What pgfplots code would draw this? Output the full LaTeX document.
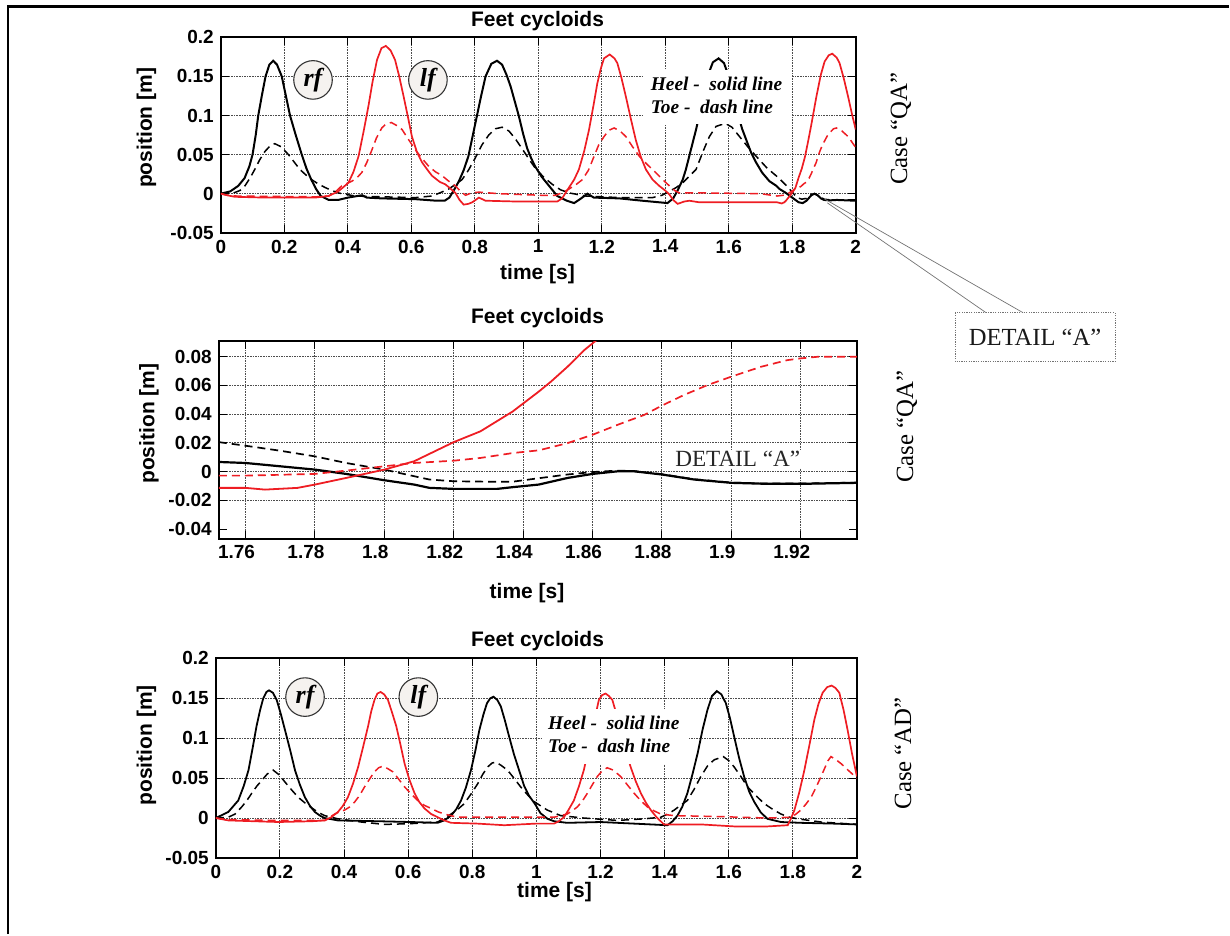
\documentclass[border=0pt]{standalone}
\usepackage{pgfplots}
\pgfplotsset{compat=1.18}
\usepackage{fontspec}
\setmainfont{Liberation Sans}
\newfontfamily\tnr{Liberation Serif}
\definecolor{cred}{HTML}{EE1D23}
\definecolor{circfill}{HTML}{F5F2EF}
\pgfplotsset{
  feet/.style={scale only axis, axis line style={line width=1pt}, grid=major,
    major grid style={black!70, line width=0.45pt, dash pattern=on 0.8pt off 0.5pt},
    tick align=inside, major tick length=4pt, every tick/.style={black,line width=0.5pt},
    ticklabel style={font=\fontsize{9.5}{11}\selectfont\bfseries}, scaled ticks=false},
  heel/.style={black, line width=1pt},
  toe/.style={black, line width=0.75pt, dash pattern=on 4pt off 2.5pt},
  rheel/.style={cred, line width=0.85pt},
  rtoe/.style={cred, line width=0.75pt, dash pattern=on 4pt off 2.5pt},
}
\begin{document}
\begin{tikzpicture}
\begin{scope}[x=0.5pt,y=-0.5pt]
\path[use as bounding box] (0,0) rectangle (1230,935);
\end{scope}
% ---------------- top axis ----------------
\begin{axis}[feet, at={(110.5pt,-116.5pt)}, anchor=south west, width=317.75pt, height=97.85pt,
  xmin=0, xmax=2, ymin=-0.05, ymax=0.2,
  xtick={0,0.2,0.4,0.6,0.8,1,1.2,1.4,1.6,1.8,2},
  xticklabels={0,0.2,0.4,0.6,0.8,1,1.2,1.4,1.6,1.8,2},
  ytick={-0.05,0,0.05,0.1,0.15,0.2}, yticklabels={-0.05,0,0.05,0.1,0.15,0.2}]
\addplot[toe] coordinates {(0,0) (0.034,0) (0.06,0.004) (0.076,0.01) (0.092,0.02) (0.107,0.031) (0.122,0.043) (0.139,0.054) (0.155,0.061) (0.17,0.064) (0.19,0.06) (0.213,0.05) (0.232,0.04) (0.249,0.031) (0.268,0.024) (0.286,0.018) (0.305,0.013) (0.328,0.008) (0.35,0.004) (0.37,0.001) (0.423,-0.003) (0.507,-0.004) (0.613,-0.005) (0.665,-0.003) (0.69,0.001) (0.718,0.006) (0.74,0.012) (0.76,0.018) (0.78,0.03) (0.802,0.046) (0.822,0.062) (0.844,0.075) (0.865,0.083) (0.886,0.085) (0.908,0.08) (0.928,0.07) (0.95,0.057) (0.971,0.044) (0.99,0.033) (1.015,0.022) (1.044,0.012) (1.07,0.005) (1.097,0.001) (1.15,-0.003) (1.255,-0.005) (1.36,-0.005) (1.39,-0.002) (1.413,0.003) (1.435,0.008) (1.455,0.014) (1.475,0.022) (1.497,0.031) (1.52,0.055) (1.539,0.073) (1.56,0.086) (1.589,0.09) (1.61,0.085) (1.634,0.073) (1.66,0.06) (1.686,0.048) (1.72,0.033) (1.749,0.023) (1.76,0.019) (1.78,0.011) (1.8,0.002) (1.815,-0.005) (1.83,-0.007) (1.845,-0.006) (1.86,-0.001) (1.87,0) (1.88,-0.002) (1.9,-0.007) (1.92,-0.008) (2,-0.008)};
\addplot[heel] coordinates {(0,0) (0.03,0.003) (0.055,0.01) (0.075,0.02) (0.09,0.035) (0.1,0.05) (0.11,0.075) (0.118,0.1) (0.13,0.127) (0.141,0.15) (0.153,0.165) (0.165,0.17) (0.177,0.165) (0.192,0.15) (0.205,0.125) (0.218,0.1) (0.236,0.075) (0.255,0.05) (0.27,0.032) (0.285,0.018) (0.3,0.006) (0.315,-0.003) (0.34,-0.008) (0.37,-0.008) (0.4,-0.005) (0.43,-0.003) (0.445,-0.002) (0.46,-0.005) (0.507,-0.006) (0.613,-0.007) (0.68,-0.009) (0.705,-0.009) (0.72,-0.005) (0.735,0.005) (0.75,0.016) (0.765,0.03) (0.78,0.048) (0.794,0.075) (0.807,0.1) (0.82,0.125) (0.834,0.15) (0.852,0.166) (0.87,0.17) (0.886,0.165) (0.9,0.152) (0.913,0.137) (0.926,0.118) (0.939,0.099) (0.952,0.077) (0.965,0.058) (0.978,0.045) (0.99,0.035) (1.01,0.022) (1.034,0.01) (1.06,-0.003) (1.09,-0.009) (1.113,-0.012) (1.135,-0.006) (1.155,0) (1.175,-0.005) (1.255,-0.006) (1.328,-0.009) (1.407,-0.012) (1.425,-0.006) (1.44,0.005) (1.455,0.018) (1.465,0.031) (1.48,0.055) (1.497,0.082) (1.51,0.105) (1.518,0.124) (1.535,0.152) (1.55,0.168) (1.568,0.173) (1.585,0.167) (1.6,0.15) (1.615,0.125) (1.63,0.1) (1.642,0.083) (1.655,0.069) (1.67,0.053) (1.686,0.04) (1.705,0.027) (1.728,0.016) (1.75,0.01) (1.76,0.006) (1.78,0.001) (1.8,-0.005) (1.82,-0.011) (1.833,-0.012) (1.845,-0.009) (1.86,-0.002) (1.87,0) (1.88,-0.002) (1.89,-0.006) (1.9,-0.008) (1.92,-0.0085) (1.94,-0.008) (2,-0.009)};
\addplot[rtoe] coordinates {(0,0) (0.02,-0.002) (0.05,-0.003) (0.3,-0.004) (0.34,-0.003) (0.36,0.002) (0.381,0.01) (0.397,0.013) (0.413,0.016) (0.428,0.02) (0.444,0.027) (0.46,0.04) (0.476,0.056) (0.49,0.071) (0.507,0.084) (0.52,0.089) (0.537,0.091) (0.555,0.087) (0.571,0.082) (0.59,0.07) (0.613,0.056) (0.634,0.045) (0.655,0.035) (0.676,0.028) (0.697,0.023) (0.718,0.016) (0.739,0.01) (0.755,0.003) (0.771,-0.002) (0.79,0.001) (0.813,0.002) (0.876,0) (1.007,-0.002) (1.055,-0.002) (1.08,0.002) (1.097,0.006) (1.12,0.012) (1.139,0.018) (1.158,0.03) (1.176,0.048) (1.19,0.062) (1.207,0.073) (1.222,0.081) (1.239,0.084) (1.258,0.08) (1.276,0.073) (1.297,0.06) (1.318,0.048) (1.344,0.037) (1.37,0.027) (1.392,0.018) (1.413,0.01) (1.43,0.004) (1.444,0.001) (1.52,0.001) (1.7,0) (1.752,-0.003) (1.78,-0.0016) (1.789,0.0007) (1.8,0.0037) (1.809,0.006) (1.82,0.0076) (1.828,0.0095) (1.837,0.0129) (1.845,0.0148) (1.853,0.0198) (1.86,0.0256) (1.867,0.0325) (1.875,0.0394) (1.88,0.0459) (1.886,0.0533) (1.893,0.0602) (1.9,0.066) (1.909,0.0729) (1.916,0.0775) (1.92,0.0787) (1.93,0.083) (1.939,0.084) (1.957,0.08) (1.976,0.073) (1.988,0.066) (2,0.059)};
\addplot[rheel] coordinates {(0,0) (0.02,-0.002) (0.044,-0.004) (0.139,-0.005) (0.297,-0.005) (0.339,-0.003) (0.355,0) (0.37,0.003) (0.385,0.008) (0.402,0.014) (0.418,0.028) (0.434,0.048) (0.45,0.08) (0.465,0.112) (0.478,0.143) (0.492,0.171) (0.506,0.186) (0.52,0.189) (0.535,0.183) (0.549,0.171) (0.562,0.15) (0.576,0.124) (0.59,0.097) (0.602,0.073) (0.618,0.053) (0.634,0.04) (0.65,0.031) (0.665,0.023) (0.69,0.015) (0.707,0.012) (0.725,0.006) (0.739,0.001) (0.752,-0.008) (0.765,-0.014) (0.78,-0.013) (0.792,-0.011) (0.813,-0.005) (0.834,-0.009) (0.93,-0.01) (1.06,-0.01) (1.075,-0.006) (1.097,0.008) (1.113,0.018) (1.128,0.031) (1.145,0.055) (1.16,0.082) (1.174,0.113) (1.186,0.141) (1.197,0.16) (1.207,0.173) (1.225,0.178) (1.24,0.173) (1.249,0.167) (1.262,0.148) (1.276,0.124) (1.292,0.095) (1.307,0.069) (1.323,0.047) (1.339,0.031) (1.36,0.018) (1.381,0.01) (1.4,0.004) (1.413,-0.001) (1.425,-0.008) (1.439,-0.013) (1.46,-0.01) (1.476,-0.009) (1.507,-0.011) (1.623,-0.011) (1.752,-0.011) (1.767,-0.0125) (1.775,-0.011) (1.78,-0.009) (1.79,-0.004) (1.8,0.0014) (1.81,0.0075) (1.82,0.0205) (1.83,0.032) (1.84,0.047) (1.85,0.067) (1.86,0.088) (1.876,0.124) (1.89,0.152) (1.902,0.169) (1.915,0.177) (1.926,0.179) (1.94,0.174) (1.949,0.167) (1.962,0.148) (1.976,0.124) (1.988,0.102) (2,0.082)};
\end{axis}
% ---------------- middle axis ----------------
\begin{axis}[feet, at={(109.5pt,-269.5pt)}, anchor=south west, width=319.35pt, height=98.65pt,
  xmin=1.7523, xmax=1.9362, ymin=-0.0465, ymax=0.0905,
  xtick={1.76,1.78,1.8,1.82,1.84,1.86,1.88,1.9,1.92},
  xticklabels={1.76,1.78,1.8,1.82,1.84,1.86,1.88,1.9,1.92},
  xticklabel style={xshift=-4.5pt},
  ytick={-0.02,0,0.02,0.04,0.06,0.08}, yticklabels={-0.02,0,0.02,0.04,0.06,0.08},
  extra y ticks={-0.04}, extra y tick labels={-0.04}, extra tick style={grid=none}]
\addplot[toe, line width=0.85pt] coordinates {(1.7523,0.0205) (1.76,0.018) (1.77,0.0145) (1.78,0.0106) (1.789,0.006) (1.8,0.0014) (1.8086,-0.0032) (1.813,-0.0055) (1.82,-0.0067) (1.83,-0.007) (1.837,-0.007) (1.8432,-0.005) (1.8528,-0.002) (1.86,-0.0003) (1.8672,0.0007) (1.872,0.0004) (1.88,-0.0018) (1.8893,-0.0053) (1.9,-0.0076) (1.9105,-0.0083) (1.92,-0.0083) (1.9362,-0.0076)};
\addplot[heel, line width=1.1pt] coordinates {(1.7523,0.0067) (1.76,0.006) (1.77,0.0037) (1.78,0.0014) (1.789,-0.0016) (1.8,-0.006) (1.8086,-0.009) (1.813,-0.0113) (1.82,-0.012) (1.8325,-0.012) (1.837,-0.0108) (1.8445,-0.009) (1.8528,-0.0044) (1.86,-0.0016) (1.8672,0.0002) (1.872,0.0002) (1.88,-0.002) (1.8893,-0.0055) (1.9,-0.0078) (1.9105,-0.0085) (1.92,-0.0085) (1.9362,-0.0078)};
\addplot[rtoe, line width=0.85pt] coordinates {(1.7523,-0.0028) (1.76,-0.0028) (1.78,-0.0016) (1.789,0.0007) (1.8,0.0037) (1.8086,0.006) (1.82,0.0076) (1.8277,0.0095) (1.837,0.0129) (1.8445,0.0148) (1.8528,0.0198) (1.86,0.0256) (1.8672,0.0325) (1.8749,0.0394) (1.88,0.0459) (1.8864,0.0533) (1.8932,0.0602) (1.9,0.066) (1.9086,0.0729) (1.9162,0.0775) (1.92,0.0787) (1.9248,0.0798) (1.9362,0.0798)};
\addplot[rheel, line width=0.9pt] coordinates {(1.7523,-0.0113) (1.76,-0.0113) (1.7656,-0.0125) (1.775,-0.0113) (1.78,-0.009) (1.789,-0.0044) (1.8,0.0014) (1.8086,0.0072) (1.82,0.0205) (1.8277,0.028) (1.837,0.0418) (1.8445,0.0556) (1.848,0.0625) (1.8528,0.0729) (1.8576,0.0844) (1.8635,0.096)};
\end{axis}
% ---------------- bottom axis ----------------
\begin{axis}[feet, at={(108pt,-429.35pt)}, anchor=south west, width=320.85pt, height=99.85pt,
  xmin=0, xmax=2, ymin=-0.05, ymax=0.2,
  xtick={0,0.2,0.4,0.6,0.8,1,1.2,1.4,1.6,1.8,2},
  xticklabels={0,0.2,0.4,0.6,0.8,1,1.2,1.4,1.6,1.8,2},
  ytick={-0.05,0,0.05,0.1,0.15,0.2}, yticklabels={-0.05,0,0.05,0.1,0.15,0.2}]
\addplot[toe] coordinates {(0,0) (0.039,0.001) (0.06,0.005) (0.081,0.014) (0.097,0.022) (0.112,0.031) (0.128,0.04) (0.143,0.047) (0.16,0.055) (0.179,0.06) (0.198,0.054) (0.216,0.045) (0.237,0.035) (0.257,0.026) (0.278,0.019) (0.298,0.013) (0.32,0.007) (0.34,0.003) (0.381,-0.001) (0.454,-0.005) (0.526,-0.008) (0.609,-0.007) (0.692,-0.005) (0.713,0) (0.734,0.005) (0.755,0.011) (0.775,0.018) (0.796,0.03) (0.817,0.043) (0.833,0.055) (0.848,0.064) (0.862,0.069) (0.874,0.07) (0.89,0.066) (0.91,0.06) (0.93,0.05) (0.951,0.039) (0.975,0.028) (0.995,0.02) (1.034,0.01) (1.076,0.003) (1.148,0) (1.253,-0.003) (1.336,-0.001) (1.388,0.001) (1.41,0.005) (1.43,0.01) (1.45,0.016) (1.471,0.022) (1.492,0.036) (1.513,0.052) (1.535,0.066) (1.555,0.073) (1.583,0.077) (1.6,0.072) (1.617,0.064) (1.638,0.052) (1.659,0.039) (1.685,0.028) (1.711,0.018) (1.737,0.011) (1.763,0.005) (1.79,0.001) (1.815,-0.001) (1.888,-0.005) (2,-0.008)};
\addplot[heel, line width=0.9pt] coordinates {(0,0) (0.039,0.0076) (0.07,0.022) (0.087,0.04) (0.102,0.06) (0.115,0.088) (0.127,0.115) (0.138,0.135) (0.148,0.15) (0.158,0.158) (0.166,0.16) (0.178,0.157) (0.19,0.148) (0.203,0.13) (0.216,0.11) (0.232,0.085) (0.247,0.06) (0.262,0.042) (0.278,0.026) (0.294,0.015) (0.309,0.0076) (0.325,0.003) (0.34,0) (0.381,-0.003) (0.506,-0.004) (0.609,-0.005) (0.692,-0.006) (0.712,-0.003) (0.734,0.003) (0.75,0.011) (0.765,0.022) (0.78,0.038) (0.796,0.06) (0.81,0.085) (0.822,0.11) (0.835,0.13) (0.846,0.144) (0.856,0.15) (0.866,0.152) (0.878,0.148) (0.889,0.14) (0.902,0.122) (0.915,0.102) (0.93,0.08) (0.946,0.06) (0.962,0.04) (0.977,0.028) (0.995,0.018) (1.013,0.006) (1.035,-0.001) (1.055,-0.004) (1.096,-0.006) (1.2,-0.005) (1.305,-0.007) (1.409,-0.009) (1.425,-0.004) (1.44,0.003) (1.455,0.014) (1.471,0.031) (1.487,0.055) (1.503,0.081) (1.518,0.11) (1.534,0.136) (1.548,0.153) (1.563,0.159) (1.577,0.155) (1.591,0.144) (1.604,0.125) (1.617,0.102) (1.632,0.076) (1.648,0.052) (1.664,0.033) (1.68,0.02) (1.7,0.007) (1.721,-0.001) (1.763,-0.005) (1.825,-0.006) (1.93,-0.007) (2,-0.008)};
\addplot[rtoe] coordinates {(0,0) (0.039,-0.002) (0.2,-0.003) (0.34,-0.003) (0.355,0.001) (0.371,0.005) (0.386,0.008) (0.402,0.01) (0.418,0.014) (0.433,0.02) (0.448,0.028) (0.464,0.039) (0.48,0.049) (0.495,0.058) (0.508,0.063) (0.521,0.065) (0.536,0.062) (0.552,0.058) (0.57,0.049) (0.589,0.039) (0.61,0.03) (0.63,0.022) (0.65,0.016) (0.672,0.012) (0.692,0.008) (0.713,0.005) (0.734,0.003) (0.754,0.001) (0.998,0.001) (1.055,0.001) (1.076,0.003) (1.096,0.005) (1.112,0.009) (1.128,0.014) (1.143,0.021) (1.159,0.031) (1.175,0.042) (1.19,0.052) (1.205,0.059) (1.221,0.063) (1.24,0.06) (1.263,0.052) (1.283,0.042) (1.305,0.031) (1.325,0.022) (1.346,0.014) (1.367,0.009) (1.388,0.005) (1.43,0.003) (1.555,0.002) (1.721,0) (1.794,0.001) (1.81,0.005) (1.825,0.01) (1.84,0.017) (1.857,0.026) (1.872,0.038) (1.888,0.052) (1.9,0.063) (1.91,0.072) (1.919,0.077) (1.935,0.073) (1.951,0.068) (1.975,0.059) (2,0.05)};
\addplot[rheel] coordinates {(0,0) (0.039,-0.003) (0.195,-0.005) (0.3,-0.004) (0.34,-0.003) (0.36,0.001) (0.381,0.0076) (0.396,0.015) (0.412,0.026) (0.428,0.043) (0.444,0.064) (0.46,0.09) (0.475,0.115) (0.485,0.134) (0.495,0.148) (0.504,0.156) (0.514,0.158) (0.525,0.155) (0.537,0.148) (0.55,0.132) (0.563,0.115) (0.576,0.092) (0.589,0.068) (0.604,0.048) (0.62,0.031) (0.635,0.02) (0.651,0.012) (0.672,0.005) (0.692,0.001) (0.713,-0.003) (0.734,-0.006) (0.817,-0.007) (0.9,-0.009) (0.998,-0.007) (1.055,-0.007) (1.07,-0.004) (1.086,0.001) (1.1,0.01) (1.117,0.022) (1.133,0.04) (1.148,0.06) (1.162,0.085) (1.174,0.11) (1.185,0.13) (1.195,0.148) (1.205,0.154) (1.216,0.156) (1.226,0.153) (1.237,0.148) (1.25,0.13) (1.263,0.11) (1.278,0.086) (1.294,0.064) (1.31,0.046) (1.326,0.031) (1.342,0.019) (1.357,0.01) (1.375,0.001) (1.398,-0.008) (1.513,-0.008) (1.617,-0.0105) (1.721,-0.0105) (1.784,-0.009) (1.795,0) (1.805,0.01) (1.82,0.032) (1.836,0.06) (1.852,0.092) (1.867,0.123) (1.88,0.143) (1.893,0.157) (1.907,0.164) (1.921,0.166) (1.933,0.163) (1.945,0.157) (1.958,0.136) (1.971,0.11) (1.985,0.08) (2,0.052)};
\end{axis}
% ---------------- annotations (pixel coordinates) ----------------
\begin{scope}[x=0.5pt,y=-0.5pt]
\draw[line width=1.1pt] (8,935) -- (8,6.5) -- (1230,6.5);
\tikzset{ttl/.style={font=\fontsize{10.5}{12}\selectfont\bfseries, inner sep=0, anchor=base},
         ylab/.style={font=\fontsize{10.5}{12}\selectfont\bfseries, inner sep=0, anchor=base, rotate=90},
         case/.style={font=\tnr\fontsize{12.4}{14}\selectfont, inner sep=0, anchor=base, rotate=90},
         ht/.style={font=\tnr\bfseries\itshape\fontsize{9.7}{11}\selectfont, inner sep=0, anchor=base west},
         circ/.style={draw=black!80, fill=circfill, line width=0.55pt},
         ctext/.style={font=\tnr\bfseries\itshape\fontsize{13}{14}\selectfont, inner sep=0}}
% titles
\node[ttl] at (538,26.7) {Feet cycloids};
\node[ttl] at (538,323.3) {Feet cycloids};
\node[ttl] at (538,646.7) {Feet cycloids};
% x labels
\node[ttl] at (538,280) {time [s]};
\node[ttl] at (527.5,599.3) {time [s]};
\node[ttl] at (555,898.3) {time [s]};
% y labels
\node[ylab] at (152,128) {position [m]};
\node[ylab] at (154.5,424) {position [m]};
\node[ylab] at (152,746) {position [m]};
% case labels
\node[case] at (908,129) {Case “QA”};
\node[case] at (914,427) {Case “QA”};
\node[case] at (912,754) {Case “AD”};
% heel / toe boxes
\fill[white] (645,70) rectangle (792,124);
\node[ht] at (651,90.7) {Heel -\ \ solid line};
\node[ht] at (651,113.3) {Toe -\ \ dash line};
\fill[white] (543,710) rectangle (690,765);
\node[ht] at (548.3,730) {Heel -\ \ solid line};
\node[ht] at (548.3,753.3) {Toe -\ \ dash line};
% circles
\draw[circ] (313.3,80) circle (19.3);
\node[ctext] at (313.3,80) {rf};
\draw[circ] (428.3,80) circle (19.3);
\node[ctext] at (428.3,80) {lf};
\draw[circ] (305.3,697.7) circle (19.3);
\node[ctext] at (305.3,697.7) {rf};
\draw[circ] (418.7,697.7) circle (19.3);
\node[ctext] at (418.7,697.7) {lf};
% detail A
\node[font=\tnr\fontsize{11.6}{13}\selectfont, fill=white, inner sep=0.6pt, anchor=base west, text=black!85] at (674.3,466.7) {DETAIL “A”};
\draw[black!55, line width=0.35pt] (828,203) -- (987,313);
\draw[black!55, line width=0.35pt] (825,199) -- (1024,313);
\draw[black!55, line width=0.5pt, dash pattern=on 0.6pt off 0.6pt, fill=white] (956,313) rectangle (1116,362);
\node[font=\tnr\fontsize{12.3}{14}\selectfont, text=black!90] at (1036,338) {DETAIL “A”};
\end{scope}
\end{tikzpicture}
\end{document}
